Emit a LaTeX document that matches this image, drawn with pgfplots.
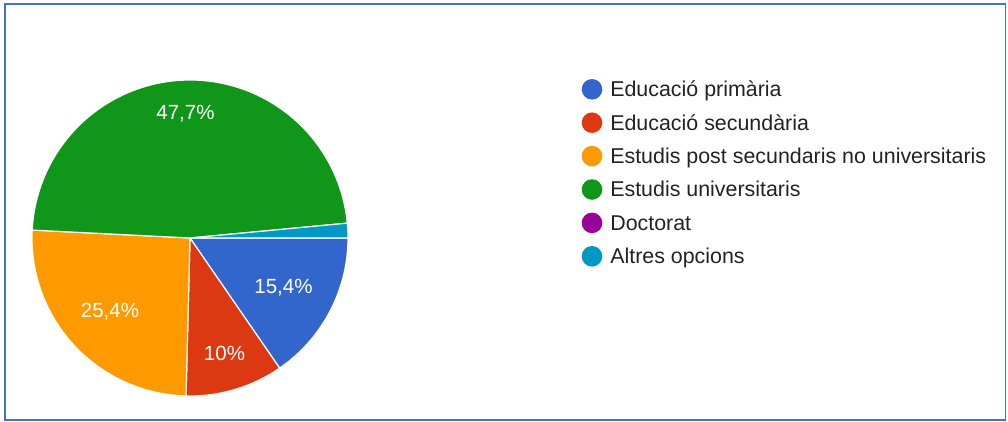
\documentclass[border=0pt]{standalone}
\usepackage{pgfplots}
\pgfplotsset{compat=1.18}
\usepackage{fontspec}
\setmainfont{Liberation Sans}
\definecolor{gblue}{HTML}{3366CC}
\definecolor{gred}{HTML}{DC3912}
\definecolor{gorange}{HTML}{FF9900}
\definecolor{ggreen}{HTML}{109618}
\definecolor{gpurple}{HTML}{990099}
\definecolor{gteal}{HTML}{0099C6}
\definecolor{frame}{HTML}{4472C4}
\definecolor{txt}{HTML}{222222}
% cumulative percentages (start:end) of each slice
% Educacio primaria 15.4, secundaria 10, post sec. 25.4, universitaris 47.7, doctorat 0, altres 1.5
\begin{document}
\begin{tikzpicture}
\begin{axis}[
  scale only axis, width=1008pt, height=422pt,
  xmin=0, xmax=1008, ymin=0, ymax=422, y dir=reverse,
  hide axis, clip=false,
  legend image code/.code={\fill[#1, draw=none] (0pt,0pt) circle (10.3pt);},
  legend cell align=left,
  legend style={draw=none, fill=none, inner sep=0pt, outer sep=0pt,
    at={(axis cs:581.7,79.0)}, anchor=north west,
    font=\fontsize{21.4}{23}\selectfont, text=txt,
    row sep=12.8pt, column sep=8pt,
    nodes={inner sep=0pt, outer sep=0pt, text height=14.8pt, text depth=0pt}},
]
\draw[frame, line width=1.6pt] (axis cs:5.2,4.2) rectangle (axis cs:1005.4,420.2);
\addplot[fill=gblue, draw=white, line width=1.2pt, domain=0:15.4, samples=60, variable=\t, forget plot]
  ({190+158*cos(3.6*t)}, {238+158*sin(3.6*t)}) -- (axis cs:190,238) -- cycle;
\addplot[fill=gred, draw=white, line width=1.2pt, domain=15.4:25.4, samples=40, variable=\t, forget plot]
  ({190+158*cos(3.6*t)}, {238+158*sin(3.6*t)}) -- (axis cs:190,238) -- cycle;
\addplot[fill=gorange, draw=white, line width=1.2pt, domain=25.4:50.8, samples=80, variable=\t, forget plot]
  ({190+158*cos(3.6*t)}, {238+158*sin(3.6*t)}) -- (axis cs:190,238) -- cycle;
\addplot[fill=ggreen, draw=white, line width=1.2pt, domain=50.8:98.5, samples=140, variable=\t, forget plot]
  ({190+158*cos(3.6*t)}, {238+158*sin(3.6*t)}) -- (axis cs:190,238) -- cycle;
\addplot[fill=gteal, draw=white, line width=1.2pt, domain=98.5:100, samples=10, variable=\t, forget plot]
  ({190+158*cos(3.6*t)}, {238+158*sin(3.6*t)}) -- (axis cs:190,238) -- cycle;
\begin{scope}[every node/.style={text=white, font=\fontsize{20.5}{22}\selectfont}]
\node at (axis cs:185.5,113.5) {47,7\%};
\node at (axis cs:110,312) {25,4\%};
\node at (axis cs:224.5,353) {10\%};
\node at (axis cs:283.5,287.5) {15,4\%};
\end{scope}
\addlegendimage{fill=gblue}\addlegendentry{Educació primària}
\addlegendimage{fill=gred}\addlegendentry{Educació secundària}
\addlegendimage{fill=gorange}\addlegendentry{Estudis post secundaris no universitaris}
\addlegendimage{fill=ggreen}\addlegendentry{Estudis universitaris}
\addlegendimage{fill=gpurple}\addlegendentry{Doctorat}
\addlegendimage{fill=gteal}\addlegendentry{Altres opcions}
\end{axis}
\pgfresetboundingbox
\path (current axis.south west) rectangle (current axis.north east);
\end{tikzpicture}
\end{document}
